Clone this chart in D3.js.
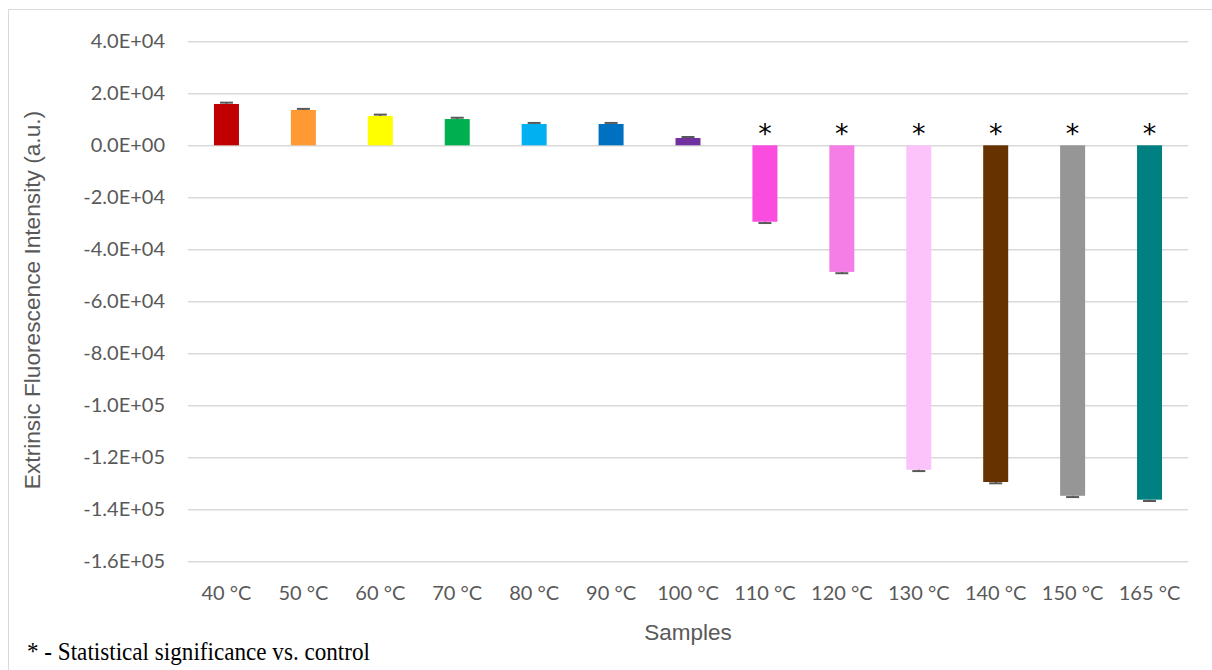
<!DOCTYPE html>
<html>
<head>
<meta charset="utf-8">
<script src="https://cdn.jsdelivr.net/npm/d3@7"></script>
<style>
  html, body { margin: 0; padding: 0; background: #ffffff; }
  svg { display: block; }
</style>
</head>
<body>
<svg id="chart" width="1212" height="670"></svg>
<script>
// Sample temperatures and mean extrinsic fluorescence change
const categories = ["40 °C", "50 °C", "60 °C", "70 °C", "80 °C", "90 °C", "100 °C",
                    "110 °C", "120 °C", "130 °C", "140 °C", "150 °C", "165 °C"];
const values = [15900, 13600, 11300, 10100, 8200, 8200, 2800,
                -29400, -48700, -124800, -129500, -134800, -136300];
const errors = [500, 400, 500, 500, 400, 400, 400, 500, 500, 500, 500, 500, 500];
const significant = [false, false, false, false, false, false, false,
                     true, true, true, true, true, true];
const barColors = ["#C00000", "#FF9933", "#FFFF00", "#00B050", "#00B0F0", "#0070C0", "#7030A0",
                   "#FA4DE0", "#F57EE6", "#FCC3FA", "#663300", "#969696", "#008080"];
const yTicks = [40000, 20000, 0, -20000, -40000, -60000, -80000, -100000,
                -120000, -140000, -160000];
const yTickLabels = ["4.0E+04", "2.0E+04", "0.0E+00", "-2.0E+04", "-4.0E+04", "-6.0E+04",
                     "-8.0E+04", "-1.0E+05", "-1.2E+05", "-1.4E+05", "-1.6E+05"];

const svg = d3.select("#chart");
const plot = { left: 188, right: 1188, top: 41.3, bottom: 561.3 };

// outer chart frame
svg.append("rect")
  .attr("x", 8.5).attr("y", 9.5)
  .attr("width", 1220).attr("height", 680)
  .attr("fill", "none").attr("stroke", "#d9d9d9").attr("stroke-width", 1);

const x = d3.scaleBand()
  .domain(categories)
  .range([plot.left, plot.right])
  .paddingInner(0.675)
  .paddingOuter(0.3375);

const y = d3.scaleLinear()
  .domain([-160000, 40000])
  .range([plot.bottom, plot.top]);

// horizontal gridlines with tick labels
const yAxis = d3.axisLeft(y)
  .tickValues(yTicks)
  .tickSize(-(plot.right - plot.left))
  .tickPadding(23)
  .tickFormat((d, i) => yTickLabels[i]);

const gy = svg.append("g")
  .attr("transform", `translate(${plot.left},0)`)
  .call(yAxis);
gy.select(".domain").remove();
gy.selectAll(".tick line").attr("stroke", "#d9d9d9").attr("stroke-width", 1.5);
gy.selectAll(".tick text")
  .attr("fill", "#595959")
  .style("font-family", "Lato, 'Open Sans', sans-serif")
  .style("font-size", "20px");

// category labels
const xAxis = d3.axisBottom(x).tickSize(0).tickPadding(0);
const gx = svg.append("g")
  .attr("transform", `translate(0,${plot.bottom + 25})`)
  .call(xAxis);
gx.select(".domain").remove();
gx.selectAll(".tick text")
  .attr("fill", "#595959")
  .attr("dy", "0.7em")
  .style("font-family", "Lato, 'Open Sans', sans-serif")
  .style("font-size", "20px");

// bars
svg.append("g").selectAll("rect")
  .data(values)
  .join("rect")
  .attr("x", (d, i) => x(categories[i]))
  .attr("width", x.bandwidth())
  .attr("y", d => y(Math.max(0, d)))
  .attr("height", d => Math.abs(y(d) - y(0)))
  .attr("fill", (d, i) => barColors[i]);

// error bars (extending away from zero)
const eb = svg.append("g").selectAll("g")
  .data(values)
  .join("g")
  .attr("stroke", "#595959")
  .attr("stroke-width", 2);
eb.append("line")
  .attr("x1", (d, i) => x(categories[i]) + x.bandwidth() / 2)
  .attr("x2", (d, i) => x(categories[i]) + x.bandwidth() / 2)
  .attr("y1", d => y(d))
  .attr("y2", (d, i) => y(d + Math.sign(d) * errors[i]));
eb.append("line")
  .attr("x1", (d, i) => x(categories[i]) + x.bandwidth() / 2 - 6.5)
  .attr("x2", (d, i) => x(categories[i]) + x.bandwidth() / 2 + 6.5)
  .attr("y1", (d, i) => y(d + Math.sign(d) * errors[i]))
  .attr("y2", (d, i) => y(d + Math.sign(d) * errors[i]));

// significance markers
svg.append("g").selectAll("text")
  .data(categories.filter((c, i) => significant[i]))
  .join("text")
  .attr("x", d => x(d) + x.bandwidth() / 2)
  .attr("y", y(0) - 2)
  .attr("text-anchor", "middle")
  .attr("fill", "#000000")
  .style("font-family", "'DejaVu Sans', sans-serif")
  .style("font-size", "27px")
  .text("*");

// axis titles
svg.append("text")
  .attr("transform", `translate(40,300) rotate(-90)`)
  .attr("text-anchor", "middle")
  .attr("fill", "#595959")
  .style("font-family", "'Liberation Sans', Arial, sans-serif")
  .style("font-size", "22.7px")
  .text("Extrinsic Fluorescence Intensity (a.u.)");

svg.append("text")
  .attr("x", 688)
  .attr("y", 640)
  .attr("text-anchor", "middle")
  .attr("fill", "#595959")
  .style("font-family", "'Liberation Sans', Arial, sans-serif")
  .style("font-size", "22.5px")
  .text("Samples");

// footnote
svg.append("text")
  .attr("x", 27)
  .attr("y", 660)
  .attr("fill", "#000000")
  .style("font-family", "'Liberation Serif', serif")
  .style("font-size", "26px")
  .attr("textLength", 343)
  .attr("lengthAdjust", "spacingAndGlyphs")
  .text("* - Statistical significance vs. control");
</script>
</body>
</html>
